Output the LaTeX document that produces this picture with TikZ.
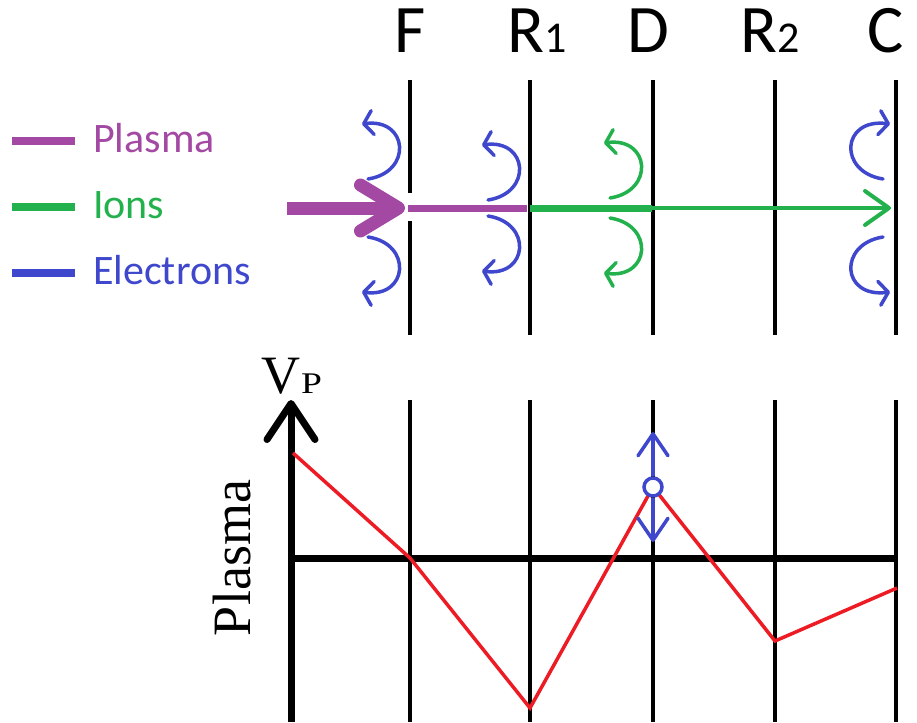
\documentclass[tikz,border=0pt]{standalone}
\usepackage{fontspec}
\setmainfont{Liberation Serif}
\newfontfamily\calfont{Carlito}
\usepackage{xcolor}
\usepackage{tikz}
\usetikzlibrary{arrows.meta, calc}
\definecolor{plasmapurple}{HTML}{A349A4}
\definecolor{iongreen}{HTML}{22B14C}
\definecolor{elecblue}{HTML}{3F48CC}
\definecolor{potred}{HTML}{ED1C24}

\tikzset{
  gridline/.style={line width=4pt},
  axisline/.style={line width=7pt},
  bounce/.style={line width=3.5pt, line cap=round, -{Straight Barb[length=9pt, width=24pt, round]}},
  elec/.style={bounce, elecblue},
  ion/.style={bounce, iongreen},
  gridlabel/.style={font=\calfont\fontsize{68}{70}\selectfont, anchor=base, inner sep=0pt},
  legendtext/.style={font=\calfont\fontsize{42}{46}\selectfont, anchor=base west, inner sep=0pt},
}

\begin{document}
\begin{tikzpicture}[x=1pt, y=-1pt]
    \useasboundingbox (0,0) rectangle (917,722);

    % electrode names
    \node[gridlabel] (lblF)  at (410,53) {F};
    \node[gridlabel] (lblR1) at (537,53) {R{\fontsize{44}{46}\selectfont 1}};
    \node[gridlabel] (lblD)  at (648,53) {D};
    \node[gridlabel] (lblR2) at (770,53) {R{\fontsize{44}{46}\selectfont 2}};
    \node[gridlabel] (lblC)  at (886,53) {C};

    % electrodes
    \draw[gridline] (410,80) -- (410,193) (410,221) -- (410,335);
    \foreach \x in {530,653,775,896}
      \draw[gridline] (\x,80) -- (\x,335);
    \foreach \x in {410,530,653,775,896}
      \draw[gridline] (\x,400) -- (\x,722);

    % legend
    \draw[plasmapurple, line width=8pt] (12,141) -- (75,141);
    \node[legendtext, text=plasmapurple] (legPlasma) at (93,153) {Plasma};
    \draw[iongreen, line width=8pt] (12,207) -- (75,207);
    \node[legendtext, text=iongreen] (legIons) at (93,218) {Ions};
    \draw[elecblue, line width=8pt] (12,273) -- (75,273);
    \node[legendtext, text=elecblue] (legElec) at (93,284) {Electrons};

    % beam
    \draw[plasmapurple, line width=13pt, -{Straight Barb[length=38pt, width=46pt, round]}] (287,208) -- (405,208);
    \draw[plasmapurple, line width=7pt] (408,208) -- (527,208);
    \draw[iongreen, line width=7pt] (530,208) -- (652,208);
    \draw[iongreen, line width=4pt, -{Straight Barb[length=24pt, width=34pt, round]}] (652,208) -- (891,208);

    % reflected particles
    \foreach \x/\a/\s in {410/29/elec, 530/8/elec, 652/10/ion} {
      \draw[\s] (\x-42,208-\a) .. controls (\x+3,201-\a) and (\x-2,147-\a) .. (\x-48,153-\a);
      \draw[\s] (\x-42,208+\a) .. controls (\x+3,215+\a) and (\x-2,269+\a) .. (\x-48,263+\a);
    }
    \draw[elec] (883,179) .. controls (838,172) and (841,118) .. (890,124);
    \draw[elec] (883,237) .. controls (838,244) and (841,298) .. (890,292);

    % potential axes
    \draw[axisline, -{Straight Barb[length=36pt, width=48pt, round]}] (291,722) -- (291,400);
    \draw[axisline] (291,558) -- (897,558);
    \node[anchor=base west, inner sep=0pt, font=\fontsize{54}{56}\selectfont] (vp) at (261,393) {V\kern1pt{\fontsize{30}{32}\selectfont\scalebox{1.25}[1]{P}}};
    \node[rotate=90, anchor=base, inner sep=0pt, font=\fontsize{54}{56}\selectfont] (axisPlasma) at (250,558) {Plasma};

    % potential profile
    \draw[potred, line width=3.5pt] (293,453) -- (410,558) -- (530,708) -- (653,487) -- (775,641) -- (897,588);

    % probe at D
    \node[circle, draw=elecblue, fill=white, line width=3.5pt, inner sep=0pt, minimum size=18pt] (probe) at (653,487) {};
    \draw[elecblue, line width=3.5pt, -{Straight Barb[length=22pt, width=30pt, round]}] (probe) -- (653,432);
    \draw[elecblue, line width=3.5pt, -{Straight Barb[length=22pt, width=30pt, round]}] (probe) -- (653,542);
  \end{tikzpicture}
\end{document}
